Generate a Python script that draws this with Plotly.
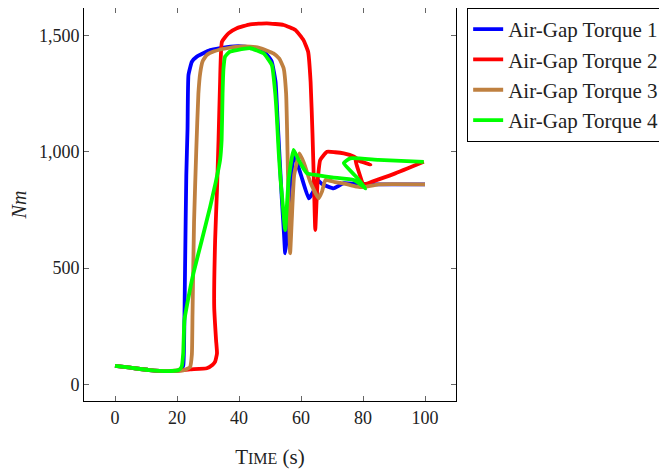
import plotly.graph_objects as go

# ---- data (time in s, torque in Nm) ----
t1 = [0, 5, 11, 18, 21, 22, 22.3, 22.6, 23.0, 23.4, 23.7, 24.8, 26.4, 30.7, 37.2, 42, 46, 48.5, 50.5, 51.8,
      52.4, 53.0, 53.8, 54.5, 54.9, 55.5, 56.5, 57.8, 60, 62.5, 64, 65.2, 67, 70.5, 73.8, 78, 85, 100]
v1 = [80, 72, 62, 58, 62, 80, 190, 500, 900, 1100, 1330, 1387, 1409, 1437, 1452, 1452, 1440, 1425, 1390, 1300,
      1150, 1000, 800, 650, 564, 640, 860, 985, 900, 800, 830, 879, 860, 843, 865, 862, 860, 860]

t2 = [0, 5, 11, 18, 24.2, 29.6, 31.5, 32.3, 32.9, 32.6, 32.0, 32.3, 32.9, 33.4, 33.9, 34.5, 36.6, 39.3, 43.6, 49,
      54.4, 58.2, 60.8, 62.3, 63.1, 63.7, 64.2, 64.6, 65.0, 65.4, 66.2, 68.4, 71, 73.8, 77, 79.2, 82.4,
      79.2, 77.5, 78.5, 80.2, 83, 90, 99.6]
v2 = [80, 72, 62, 58, 65, 70, 85, 98, 134, 191, 334, 621, 836, 1051, 1301, 1473, 1509, 1531, 1548, 1552,
      1545, 1523, 1480, 1430, 1300, 1080, 850, 664, 780, 879, 965, 1000, 998, 993, 980, 960, 945,
      958, 968, 920, 860, 872, 905, 957]

t3 = [0, 5, 11, 18, 22, 24.2, 24.8, 25.0, 25.5, 26.2, 26.9, 27.5, 28.3, 29.6, 32, 36.1, 40, 43.6, 47, 51.1,
      53, 54.4, 55.2, 55.5, 55.8, 56.1, 56.5, 57.0, 57.8, 59.5, 61, 63, 65.7, 66.8, 67.9, 71, 75, 78.1, 80.2,
      85, 100]
v3 = [80, 72, 62, 58, 60, 75, 130, 300, 700, 1000, 1250, 1340, 1390, 1416, 1432, 1445, 1452, 1452, 1445, 1423,
      1400, 1359, 1250, 1100, 900, 750, 564, 700, 900, 993, 950, 870, 800, 830, 879, 870, 860, 850, 848,
      860, 860]

t4 = [0, 5, 11, 18, 20.5, 21.5, 22.0, 22.4, 23.5, 25.3, 28, 30.7, 32.5, 33.9, 34.4, 34.7, 35.0, 35.5, 37,
      39.3, 43.6, 47.9, 50.6, 51.7, 52.2, 52.8, 53.4, 53.9, 54.9, 56.0, 57.6, 59, 61.9, 65.2, 70, 77, 80.2,
      80.8, 78, 73.8, 75.9, 85, 99.6]
v4 = [80, 72, 62, 58, 62, 76, 134, 277, 360, 478, 620, 764, 870, 965, 1051, 1250, 1359, 1409, 1430,
      1437, 1445, 1423, 1373, 1250, 1150, 1000, 880, 807, 664, 879, 1008, 970, 908, 900, 890, 879, 850,
      843, 890, 951, 972, 965, 957]

names = ["Air-Gap Torque 1", "Air-Gap Torque 2", "Air-Gap Torque 3", "Air-Gap Torque 4"]
colors = ["#0000ff", "#ff0000", "#bf8040", "#00ff00"]
x_ticks = [0, 20, 40, 60, 80, 100]
y_ticks = [0, 500, 1000, 1500]

FONT = "Liberation Serif"

fig = go.Figure()
for t, v, n, c in zip([t1, t2, t3, t4], [v1, v2, v3, v4], names, colors):
    fig.add_trace(go.Scatter(x=t, y=v, name=n, mode="lines",
                             line=dict(color=c, width=3.8, shape="spline", smoothing=0.4)))

axis_common = dict(showline=True, linecolor="black", linewidth=1, mirror="ticks",
                   ticks="inside", ticklen=5, tickcolor="#666", tickwidth=1,
                   showgrid=False, zeroline=False, automargin=False,
                   tickfont=dict(family=FONT, size=18, color="#222"))

# the page body has an 8px default margin, so the figure is sized to compensate
fig.update_layout(
    width=659, height=464,
    margin=dict(l=76, r=211, t=0, b=71),
    plot_bgcolor="white", paper_bgcolor="white",
    font=dict(family=FONT, color="#222"),
    xaxis=dict(range=[-10, 110], tickvals=x_ticks,
               title=dict(text="T<span style='font-size:16px'>IME</span> (s)",
                          font=dict(family=FONT, size=21, color="#222"), standoff=22),
               **axis_common),
    yaxis=dict(range=[-71, 1618], tickvals=y_ticks, tickformat=",",
               title=dict(text="<i>Nm</i>", font=dict(family=FONT, size=20, color="#222"), standoff=8),
               **axis_common),
    legend=dict(x=1.03, y=1.0, xanchor="left", yanchor="top",
                bordercolor="black", borderwidth=1, bgcolor="white",
                font=dict(family=FONT, size=21, color="#222"),
                tracegroupgap=0),
    showlegend=True,
)

fig.write_html("out.html")
